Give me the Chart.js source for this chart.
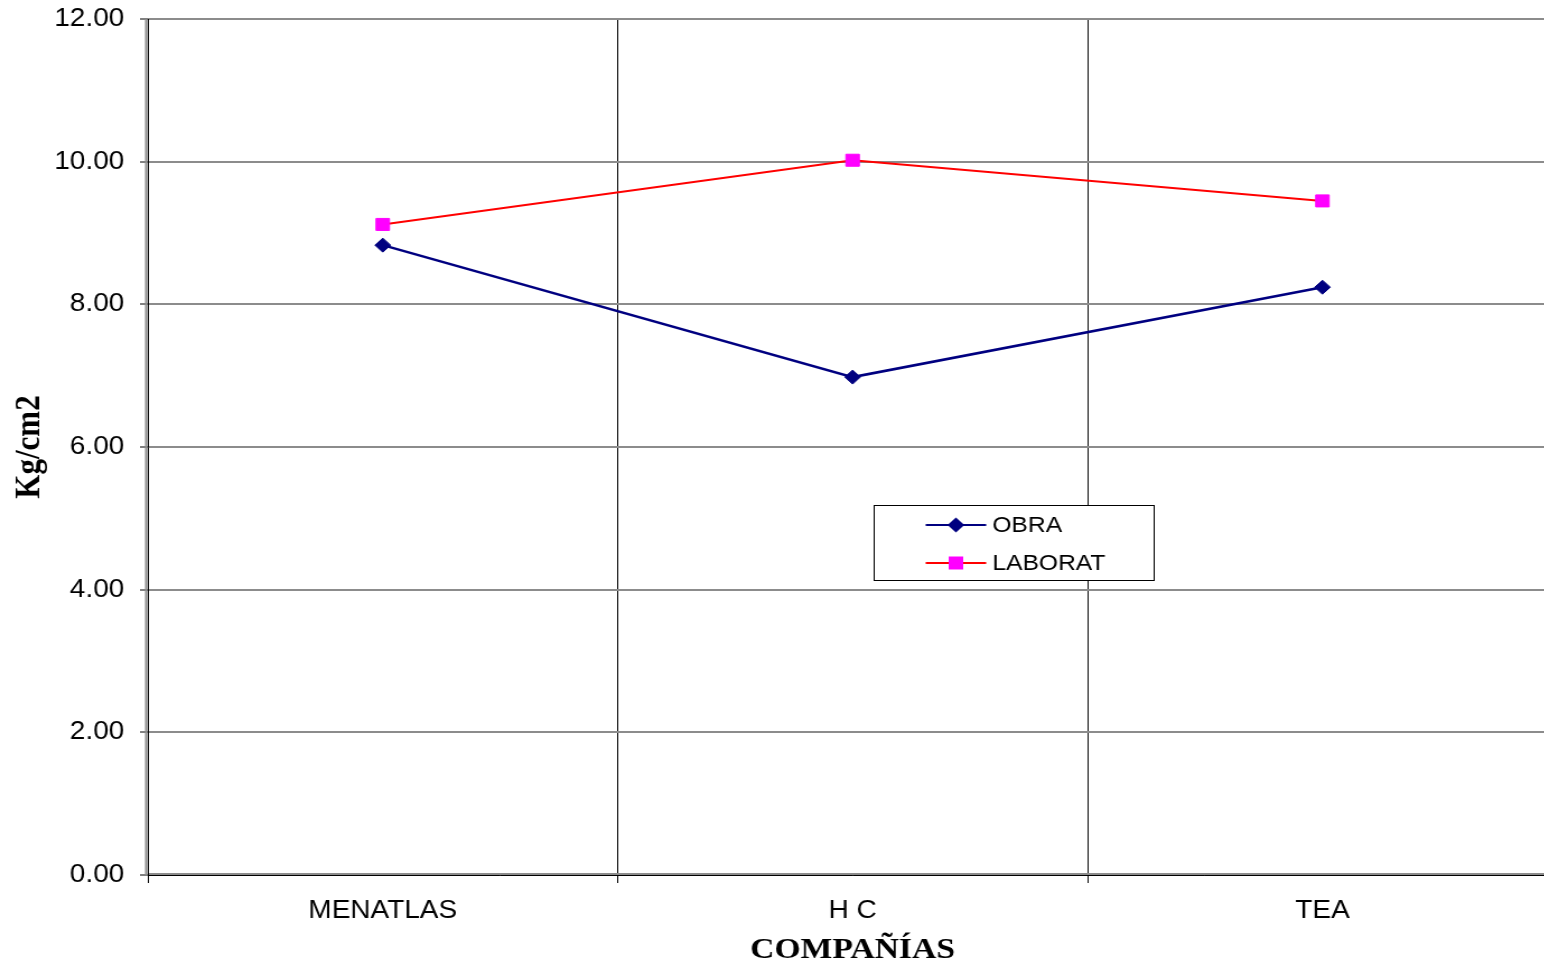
<!DOCTYPE html>
<html lang="es">
<head>
<meta charset="utf-8">
<title>Kg/cm2 por compañía</title>
<script src="https://cdn.jsdelivr.net/npm/chart.js@4.4.1/dist/chart.umd.min.js"></script>
<style>
  html, body { margin: 0; padding: 0; background: #fff; overflow: hidden; }
  #wrap { width: 1400px; height: 966px; transform: scaleX(1.12); transform-origin: 0 0; }
  canvas { display: block; }
</style>
</head>
<body>
<div id="wrap"><canvas id="chart" width="1400" height="966"></canvas></div>
<script>
// Compañías y resistencias (Kg/cm2)
const companias = ['MENATLAS', 'H C', 'TEA'];
const obra = [8.83, 6.98, 8.24];
const laborat = [9.12, 10.02, 9.45];
const yTicks = [0, 2, 4, 6, 8, 10, 12];

const SANS = '"Liberation Sans", Arial, sans-serif';
const SERIF = '"Liberation Serif", "Times New Roman", serif';

// Gray/black double edge on the left and bottom axes
const axisFrame = {
  id: 'axisFrame',
  beforeDatasetsDraw(chart) {
    const { ctx, chartArea: a } = chart;
    ctx.save();
    ctx.lineWidth = 2;
    ctx.strokeStyle = '#8c8c8c';
    ctx.beginPath();
    ctx.moveTo(a.left - 1.5, a.top);
    ctx.lineTo(a.left - 1.5, a.bottom);
    ctx.moveTo(a.left, a.bottom - 1);
    ctx.lineTo(a.right, a.bottom - 1);
    ctx.stroke();
    ctx.lineWidth = 1;
    ctx.strokeStyle = '#000';
    ctx.beginPath();
    ctx.moveTo(a.left + 0.5, a.top);
    ctx.lineTo(a.left + 0.5, a.bottom + 1);
    ctx.moveTo(a.left, a.bottom + 0.5);
    ctx.lineTo(a.right, a.bottom + 0.5);
    ctx.stroke();
    ctx.restore();
  }
};

// Boxed legend inside the plot
const boxLegend = {
  id: 'boxLegend',
  afterDraw(chart) {
    const { ctx } = chart;
    const box = { x: 780, y: 505.5, w: 250, h: 75 };
    const rows = [525, 563];
    ctx.save();
    ctx.fillStyle = '#fff';
    ctx.fillRect(box.x, box.y, box.w, box.h);
    ctx.strokeStyle = '#000';
    ctx.lineWidth = 1;
    ctx.strokeRect(box.x + 0.5, box.y, box.w, box.h);
    chart.data.datasets.forEach((ds, i) => {
      const y = rows[i];
      ctx.strokeStyle = ds.borderColor;
      ctx.lineWidth = 2;
      ctx.beginPath();
      ctx.moveTo(826.5, y);
      ctx.lineTo(880.5, y);
      ctx.stroke();
      const cx = 853.5;
      ctx.fillStyle = ds.pointBackgroundColor;
      ctx.beginPath();
      if (ds.pointStyle === 'rectRot') {
        const r = 7.5;
        ctx.moveTo(cx, y - r);
        ctx.lineTo(cx + r, y);
        ctx.lineTo(cx, y + r);
        ctx.lineTo(cx - r, y);
        ctx.closePath();
      } else {
        const s = 6.5;
        ctx.rect(cx - s, y - s, 2 * s, 2 * s);
      }
      ctx.fill();
      ctx.fillStyle = '#000';
      ctx.font = '22px ' + SANS;
      ctx.textAlign = 'left';
      ctx.textBaseline = 'middle';
      ctx.fillText(ds.label, 886, y + 1);
    });
    ctx.restore();
  }
};

new Chart(document.getElementById('chart'), {
  type: 'line',
  data: {
    labels: companias,
    datasets: [
      {
        label: 'OBRA',
        data: obra,
        borderColor: '#000080',
        borderWidth: 2.5,
        pointStyle: 'rectRot',
        pointRadius: 7,
        pointBorderWidth: 1,
        pointBackgroundColor: '#000080',
        pointBorderColor: '#000080',
        tension: 0
      },
      {
        label: 'LABORAT',
        data: laborat,
        borderColor: '#ff0000',
        borderWidth: 2,
        pointStyle: 'rect',
        pointRadius: 8.5,
        pointBorderWidth: 1,
        pointBackgroundColor: '#ff00ff',
        pointBorderColor: '#ff00ff',
        tension: 0
      }
    ]
  },
  options: {
    responsive: false,
    devicePixelRatio: 1,
    animation: false,
    layout: { padding: { top: 19, right: 1, left: 0, bottom: 0 } },
    plugins: {
      legend: { display: false },
      tooltip: { enabled: false }
    },
    scales: {
      x: {
        offset: true,
        grid: { offset: true, color: '#000', lineWidth: 1, tickLength: 8, tickColor: '#000' },
        border: { display: false },
        ticks: { color: '#000', padding: 13, font: { family: SANS, size: 25 } },
        title: {
          display: true,
          text: 'COMPAÑÍAS',
          color: '#000',
          font: { family: SERIF, size: 30, weight: 'bold' },
          padding: { top: 0, bottom: -2 }
        },
        afterFit(scale) { scale.height = 91; }
      },
      y: {
        min: 0,
        max: 12,
        afterBuildTicks(scale) { scale.ticks = yTicks.map(v => ({ value: v })); },
        grid: { color: '#8c8c8c', lineWidth: 2, tickLength: 7, tickColor: '#000', tickWidth: 1 },
        border: { display: false },
        ticks: {
          color: '#000',
          padding: 14,
          font: { family: SANS, size: 25, lineHeight: 0.3 },
          callback: v => Number(v).toFixed(2)
        },
        title: {
          display: true,
          text: 'Kg/cm2',
          color: '#000',
          font: { family: SERIF, size: 31, weight: 'bold' },
          padding: { top: 8, bottom: 0 }
        },
        afterFit(scale) { scale.width = 132; }
      }
    }
  },
  plugins: [axisFrame, boxLegend]
});
</script>
</body>
</html>
